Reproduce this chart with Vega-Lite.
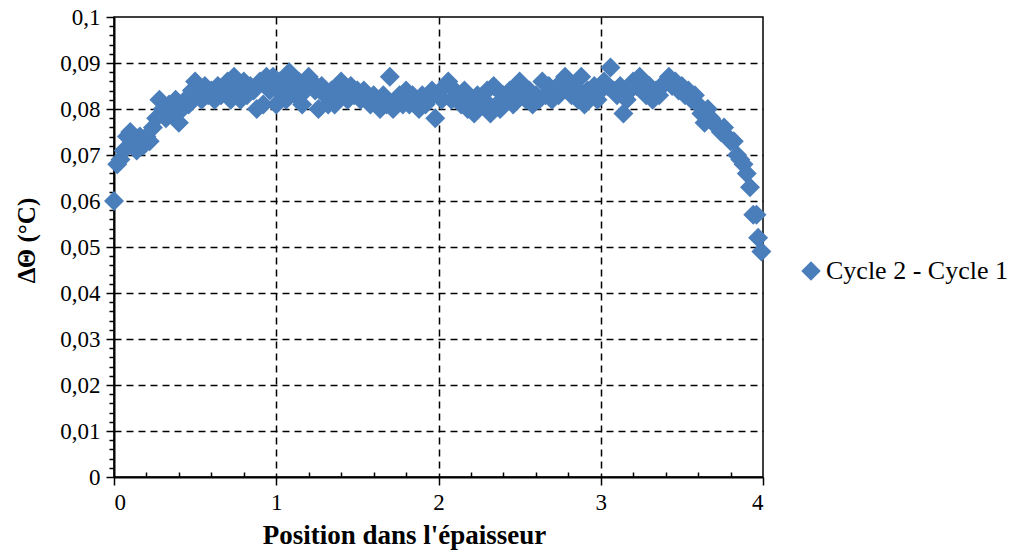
{
  "$schema": "https://vega.github.io/schema/vega-lite/v6.json",
  "width": 649,
  "height": 460,
  "autosize": {"type": "none"},
  "padding": {"left": 114, "top": 17, "right": 248, "bottom": 77},
  "background": "white",
  "config": {
    "view": {"stroke": "black", "strokeWidth": 1.5},
    "font": "Times New Roman, Liberation Serif, serif"
  },
  "data": {
    "values": [
      {"x": 0.00, "y": 0.060}, {"x": 0.02, "y": 0.068}, {"x": 0.04, "y": 0.069}, {"x": 0.06, "y": 0.071},
      {"x": 0.08, "y": 0.074}, {"x": 0.10, "y": 0.075}, {"x": 0.12, "y": 0.073}, {"x": 0.14, "y": 0.071},
      {"x": 0.16, "y": 0.074}, {"x": 0.18, "y": 0.072}, {"x": 0.20, "y": 0.074}, {"x": 0.22, "y": 0.073},
      {"x": 0.24, "y": 0.076}, {"x": 0.26, "y": 0.078}, {"x": 0.28, "y": 0.082}, {"x": 0.30, "y": 0.080},
      {"x": 0.32, "y": 0.078}, {"x": 0.34, "y": 0.081}, {"x": 0.36, "y": 0.079}, {"x": 0.38, "y": 0.082},
      {"x": 0.40, "y": 0.077}, {"x": 0.42, "y": 0.080}, {"x": 0.44, "y": 0.082}, {"x": 0.46, "y": 0.081},
      {"x": 0.48, "y": 0.084}, {"x": 0.50, "y": 0.086}, {"x": 0.52, "y": 0.083}, {"x": 0.54, "y": 0.082},
      {"x": 0.56, "y": 0.085}, {"x": 0.58, "y": 0.083}, {"x": 0.60, "y": 0.084}, {"x": 0.62, "y": 0.082},
      {"x": 0.64, "y": 0.085}, {"x": 0.66, "y": 0.083}, {"x": 0.68, "y": 0.084}, {"x": 0.70, "y": 0.086},
      {"x": 0.72, "y": 0.082}, {"x": 0.74, "y": 0.087}, {"x": 0.76, "y": 0.084}, {"x": 0.78, "y": 0.082},
      {"x": 0.80, "y": 0.086}, {"x": 0.82, "y": 0.083}, {"x": 0.84, "y": 0.085}, {"x": 0.86, "y": 0.084},
      {"x": 0.88, "y": 0.080}, {"x": 0.90, "y": 0.086}, {"x": 0.92, "y": 0.081}, {"x": 0.94, "y": 0.087},
      {"x": 0.96, "y": 0.084}, {"x": 0.98, "y": 0.087}, {"x": 1.00, "y": 0.081}, {"x": 1.02, "y": 0.086},
      {"x": 1.04, "y": 0.083}, {"x": 1.06, "y": 0.082}, {"x": 1.08, "y": 0.088}, {"x": 1.10, "y": 0.085},
      {"x": 1.12, "y": 0.083}, {"x": 1.14, "y": 0.086}, {"x": 1.16, "y": 0.081}, {"x": 1.18, "y": 0.084},
      {"x": 1.20, "y": 0.087}, {"x": 1.22, "y": 0.086}, {"x": 1.24, "y": 0.084}, {"x": 1.26, "y": 0.080},
      {"x": 1.28, "y": 0.085}, {"x": 1.30, "y": 0.083}, {"x": 1.32, "y": 0.081}, {"x": 1.34, "y": 0.084},
      {"x": 1.36, "y": 0.081}, {"x": 1.38, "y": 0.083}, {"x": 1.40, "y": 0.086}, {"x": 1.42, "y": 0.084},
      {"x": 1.44, "y": 0.082}, {"x": 1.46, "y": 0.085}, {"x": 1.48, "y": 0.083}, {"x": 1.50, "y": 0.084},
      {"x": 1.52, "y": 0.082}, {"x": 1.54, "y": 0.084}, {"x": 1.56, "y": 0.083}, {"x": 1.58, "y": 0.081},
      {"x": 1.60, "y": 0.083}, {"x": 1.62, "y": 0.082}, {"x": 1.64, "y": 0.080}, {"x": 1.66, "y": 0.083},
      {"x": 1.68, "y": 0.081}, {"x": 1.70, "y": 0.087}, {"x": 1.72, "y": 0.080}, {"x": 1.74, "y": 0.082},
      {"x": 1.76, "y": 0.083}, {"x": 1.78, "y": 0.081}, {"x": 1.80, "y": 0.084}, {"x": 1.82, "y": 0.081},
      {"x": 1.84, "y": 0.083}, {"x": 1.86, "y": 0.082}, {"x": 1.88, "y": 0.080}, {"x": 1.90, "y": 0.083},
      {"x": 1.92, "y": 0.081}, {"x": 1.94, "y": 0.082}, {"x": 1.96, "y": 0.084}, {"x": 1.98, "y": 0.078},
      {"x": 2.00, "y": 0.083}, {"x": 2.02, "y": 0.082}, {"x": 2.04, "y": 0.085}, {"x": 2.06, "y": 0.086},
      {"x": 2.08, "y": 0.082}, {"x": 2.10, "y": 0.084}, {"x": 2.12, "y": 0.083}, {"x": 2.14, "y": 0.081},
      {"x": 2.16, "y": 0.084}, {"x": 2.18, "y": 0.080}, {"x": 2.20, "y": 0.082}, {"x": 2.22, "y": 0.079},
      {"x": 2.24, "y": 0.083}, {"x": 2.26, "y": 0.081}, {"x": 2.28, "y": 0.082}, {"x": 2.30, "y": 0.084},
      {"x": 2.32, "y": 0.079}, {"x": 2.34, "y": 0.085}, {"x": 2.36, "y": 0.081}, {"x": 2.38, "y": 0.080},
      {"x": 2.40, "y": 0.083}, {"x": 2.42, "y": 0.082}, {"x": 2.44, "y": 0.084}, {"x": 2.46, "y": 0.081},
      {"x": 2.48, "y": 0.083}, {"x": 2.50, "y": 0.086}, {"x": 2.52, "y": 0.085}, {"x": 2.54, "y": 0.082},
      {"x": 2.56, "y": 0.084}, {"x": 2.58, "y": 0.081}, {"x": 2.60, "y": 0.083}, {"x": 2.62, "y": 0.082},
      {"x": 2.64, "y": 0.086}, {"x": 2.66, "y": 0.083}, {"x": 2.68, "y": 0.085}, {"x": 2.70, "y": 0.082},
      {"x": 2.72, "y": 0.084}, {"x": 2.74, "y": 0.083}, {"x": 2.76, "y": 0.086}, {"x": 2.78, "y": 0.087},
      {"x": 2.80, "y": 0.084}, {"x": 2.82, "y": 0.083}, {"x": 2.84, "y": 0.085}, {"x": 2.86, "y": 0.082},
      {"x": 2.88, "y": 0.087}, {"x": 2.90, "y": 0.081}, {"x": 2.92, "y": 0.084}, {"x": 2.94, "y": 0.083},
      {"x": 2.96, "y": 0.085}, {"x": 2.98, "y": 0.082}, {"x": 3.00, "y": 0.084}, {"x": 3.02, "y": 0.086},
      {"x": 3.04, "y": 0.085}, {"x": 3.06, "y": 0.089}, {"x": 3.08, "y": 0.084}, {"x": 3.10, "y": 0.083},
      {"x": 3.12, "y": 0.085}, {"x": 3.14, "y": 0.079}, {"x": 3.16, "y": 0.082}, {"x": 3.18, "y": 0.084},
      {"x": 3.20, "y": 0.086}, {"x": 3.22, "y": 0.085}, {"x": 3.24, "y": 0.087}, {"x": 3.26, "y": 0.084},
      {"x": 3.28, "y": 0.083}, {"x": 3.30, "y": 0.085}, {"x": 3.32, "y": 0.082}, {"x": 3.34, "y": 0.084},
      {"x": 3.36, "y": 0.083}, {"x": 3.38, "y": 0.085}, {"x": 3.40, "y": 0.086}, {"x": 3.42, "y": 0.087},
      {"x": 3.44, "y": 0.085}, {"x": 3.46, "y": 0.086}, {"x": 3.48, "y": 0.084}, {"x": 3.50, "y": 0.085},
      {"x": 3.52, "y": 0.083}, {"x": 3.54, "y": 0.084}, {"x": 3.56, "y": 0.082}, {"x": 3.58, "y": 0.083},
      {"x": 3.60, "y": 0.081}, {"x": 3.62, "y": 0.079}, {"x": 3.64, "y": 0.077}, {"x": 3.66, "y": 0.080},
      {"x": 3.68, "y": 0.078}, {"x": 3.70, "y": 0.077}, {"x": 3.72, "y": 0.076}, {"x": 3.74, "y": 0.075},
      {"x": 3.76, "y": 0.076}, {"x": 3.78, "y": 0.074}, {"x": 3.80, "y": 0.073}, {"x": 3.82, "y": 0.073},
      {"x": 3.84, "y": 0.070}, {"x": 3.86, "y": 0.069}, {"x": 3.88, "y": 0.068}, {"x": 3.90, "y": 0.066},
      {"x": 3.92, "y": 0.063}, {"x": 3.94, "y": 0.057}, {"x": 3.96, "y": 0.057}, {"x": 3.97, "y": 0.052},
      {"x": 3.99, "y": 0.049}
    ]
  },
  "mark": {"type": "point", "shape": "diamond", "filled": true, "size": 400, "opacity": 1},
  "encoding": {
    "x": {
      "field": "x",
      "type": "quantitative",
      "scale": {"domain": [0, 4], "nice": false, "zero": false},
      "axis": {
        "title": "Position dans l'épaisseur",
        "titleFont": "Times New Roman, Liberation Serif, serif",
        "titleFontSize": 27,
        "titleFontWeight": "bold",
        "titleColor": "black",
        "titlePadding": 8,
        "titleX": 290,
        "values": [0, 0.2, 0.4, 0.6, 0.8, 1, 1.2, 1.4, 1.6, 1.8, 2, 2.2, 2.4, 2.6, 2.8, 3, 3.2, 3.4, 3.6, 3.8, 4],
        "labelExpr": "abs(datum.value - round(datum.value)) < 1e-6 ? format(datum.value, 'd') : ''",
        "labelOverlap": false,
        "labelFont": "Times New Roman, Liberation Serif, serif",
        "labelFontSize": 23,
        "labelColor": "black",
        "labelPadding": 6,
        "tickSize": {"condition": {"test": "abs(datum.value - round(datum.value)) < 1e-6", "value": 8}, "value": -5},
        "tickColor": "black",
        "tickWidth": 1.5,
        "domainColor": "black",
        "domainWidth": 2,
        "grid": true,
        "gridColor": "black",
        "gridWidth": 1.5,
        "gridDash": [7, 5],
        "gridOpacity": {"condition": {"test": "abs(datum.value - round(datum.value)) < 1e-6 && datum.value > 0.5 && datum.value < 3.5", "value": 1}, "value": 0}
      }
    },
    "y": {
      "field": "y",
      "type": "quantitative",
      "scale": {"domain": [0, 0.1], "nice": false},
      "axis": {
        "title": "ΔΘ (°C)",
        "titleFont": "Times New Roman, Liberation Serif, serif",
        "titleFontSize": 25,
        "titleFontWeight": "bold",
        "titleColor": "black",
        "titlePadding": 20,
        "titleY": 223,
        "values": [0, 0.002, 0.004, 0.006, 0.008, 0.01, 0.012, 0.014, 0.016, 0.018, 0.02, 0.022, 0.024, 0.026, 0.028, 0.03, 0.032, 0.034, 0.036, 0.038, 0.04, 0.042, 0.044, 0.046, 0.048, 0.05, 0.052, 0.054, 0.056, 0.058, 0.06, 0.062, 0.064, 0.066, 0.068, 0.07, 0.072, 0.074, 0.076, 0.078, 0.08, 0.082, 0.084, 0.086, 0.088, 0.09, 0.092, 0.094, 0.096, 0.098, 0.1],
        "labelExpr": "abs(datum.value * 100 - round(datum.value * 100)) < 1e-6 ? replace(format(datum.value, '.2~f'), '.', ',') : ''",
        "labelOverlap": false,
        "labelFont": "Times New Roman, Liberation Serif, serif",
        "labelFontSize": 23,
        "labelColor": "black",
        "labelPadding": 6,
        "tickSize": {"condition": {"test": "abs(datum.value * 100 - round(datum.value * 100)) < 1e-6", "value": 8}, "value": 5},
        "tickColor": "black",
        "tickWidth": 1.5,
        "domainColor": "black",
        "domainWidth": 2,
        "grid": true,
        "gridColor": "black",
        "gridWidth": 1.5,
        "gridDash": [7, 5],
        "gridOpacity": {"condition": {"test": "abs(datum.value * 100 - round(datum.value * 100)) < 1e-6 && datum.value > 0.005 && datum.value < 0.095", "value": 1}, "value": 0}
      }
    },
    "color": {
      "datum": "Cycle 2 - Cycle 1",
      "type": "nominal",
      "scale": {"range": ["#4A7EBB"]},
      "legend": {
        "title": null,
        "orient": "none",
        "legendX": 684,
        "legendY": 241,
        "padding": 0,
        "symbolType": "diamond",
        "symbolSize": 380,
        "symbolStrokeWidth": 0,
        "symbolOpacity": 1,
        "labelFont": "Times New Roman, Liberation Serif, serif",
        "labelFontSize": 26,
        "labelColor": "black",
        "labelOffset": 2,
        "labelLimit": 400
      }
    }
  }
}
